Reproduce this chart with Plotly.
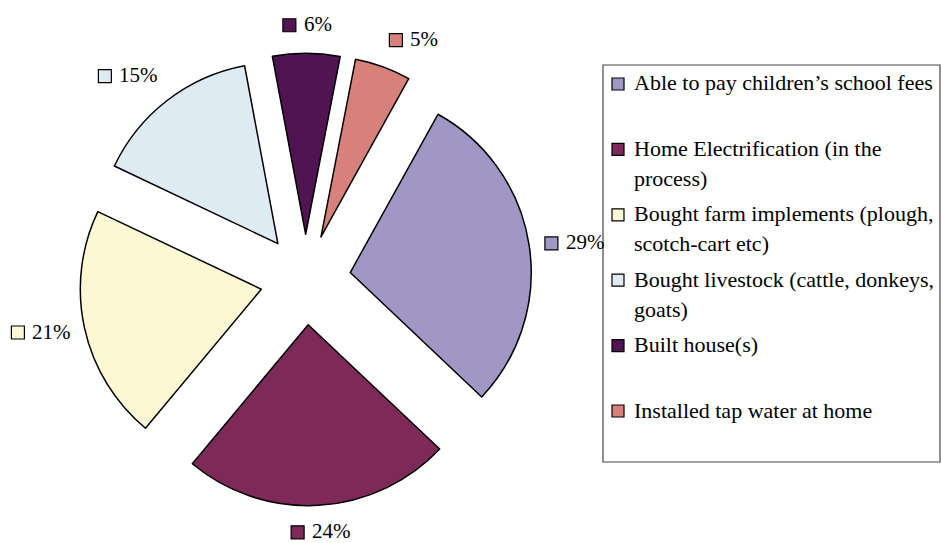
import math
import plotly.graph_objects as go

# ---- data ----
categories = [
    "Able to pay children’s school fees",
    "Home Electrification (in the process)",
    "Bought farm implements (plough, scotch-cart etc)",
    "Bought livestock (cattle, donkeys, goats)",
    "Built house(s)",
    "Installed tap water at home",
]
legend_lines = [
    ["Able to pay children’s school fees"],
    ["Home Electrification (in the", "process)"],
    ["Bought farm implements (plough,", "scotch-cart etc)"],
    ["Bought livestock (cattle, donkeys,", "goats)"],
    ["Built house(s)"],
    ["Installed tap water at home"],
]
percent_values = [29, 24, 21, 15, 6, 5]
colors = ["#A097C4", "#7E2A58", "#FCF8D4", "#DEEBF2", "#501452", "#D8807A"]

# ---- layout constants (screen pixels) ----
W, H = 941, 543
FONT = "Liberation Serif"
FS = 21
FS_LEG = 22
ROTATION = 29
PULL = 0.25
CX, CY = 305.5, 279.5          # pie centre in screen px
BOX = 452.5                    # pie domain box size (px)
R = BOX / 2 / (1 + PULL)


def px(x):
    return x / W


def py(y):
    return 1 - y / H


fig = go.Figure()
fig.add_trace(go.Pie(
    labels=categories,
    values=percent_values,
    sort=False,
    direction="clockwise",
    rotation=ROTATION,
    pull=PULL,
    marker=dict(colors=colors, line=dict(color="black", width=1.5)),
    textinfo="none",
    hoverinfo="label+percent",
    showlegend=False,
    domain=dict(x=[px(CX - BOX / 2), px(CX + BOX / 2)],
                y=[py(CY + BOX / 2), py(CY - BOX / 2)]),
))

shapes = []
annotations = []

# ---- slice labels (square + percentage) ----
total = sum(percent_values)
start = ROTATION
SQ = 13
GAP = 6
for v, c in zip(percent_values, colors):
    mid = start + 360 * v / total / 2
    start += 360 * v / total
    a = math.radians(mid)
    sx, cy_ = math.sin(a), -math.cos(a)
    D = R * (1 + PULL) + (19 if cy_ < -0.3 else 16)
    Px, Py = CX + D * sx, CY + D * cy_
    txt = f"{v}%"
    tw = (0.5 * (len(txt) - 1) + 0.833) * FS
    gw = SQ + GAP + tw
    gh = 20
    if sx > 0.3:
        gl = Px
    elif sx < -0.3:
        gl = Px - gw
    else:
        gl = Px - gw / 2
    if cy_ < -0.3:
        gc = Py - gh / 2
    elif cy_ > 0.3:
        gc = Py + gh / 2
    else:
        gc = Py
    shapes.append(dict(type="rect", xref="paper", yref="paper",
                       x0=px(gl), x1=px(gl + SQ), y0=py(gc - SQ / 2 + 1), y1=py(gc + SQ / 2 + 1),
                       fillcolor=c, line=dict(color="black", width=1.2)))
    annotations.append(dict(text=txt, xref="paper", yref="paper",
                            x=px(gl + SQ + GAP), y=py(gc), xanchor="left", yanchor="middle",
                            showarrow=False, font=dict(family=FONT, size=FS, color="black")))

# ---- legend box ----
shapes.append(dict(type="rect", xref="paper", yref="paper",
                   x0=px(603), x1=px(940), y0=py(65), y1=py(462),
                   fillcolor="rgba(0,0,0,0)", line=dict(color="#444444", width=1.2)))
ENTRY0, ENTRY_STEP, LINE_STEP = 83, 65.4, 30
for i, (lines, c) in enumerate(zip(legend_lines, colors)):
    y0 = ENTRY0 + i * ENTRY_STEP
    shapes.append(dict(type="rect", xref="paper", yref="paper",
                       x0=px(612), x1=px(624), y0=py(y0 - 6 + 1), y1=py(y0 + 6 + 1),
                       fillcolor=c, line=dict(color="black", width=1.2)))
    for j, ln in enumerate(lines):
        annotations.append(dict(text=ln, xref="paper", yref="paper",
                                x=px(632), y=py(y0 + j * LINE_STEP), xanchor="left", yanchor="middle",
                                showarrow=False, font=dict(family=FONT, size=FS_LEG, color="black")))

fig.update_layout(
    width=W, height=H,
    margin=dict(l=0, r=0, t=0, b=0),
    paper_bgcolor="white", plot_bgcolor="white",
    shapes=shapes, annotations=annotations,
    showlegend=False,
    font=dict(family=FONT, size=FS, color="black"),
)

fig.write_html("out.html",
               config={"displayModeBar": False},
               post_script="document.body.style.margin='0';document.body.style.overflow='hidden';")
